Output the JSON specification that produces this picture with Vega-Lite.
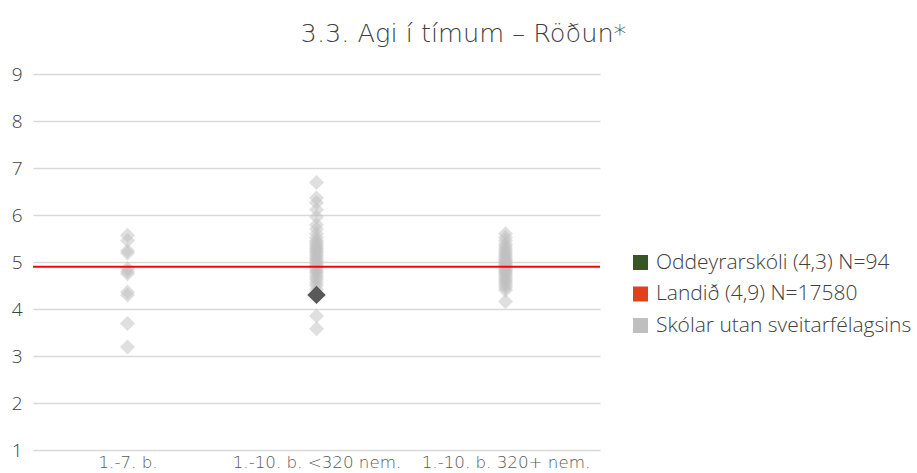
{
  "$schema": "https://vega.github.io/schema/vega-lite/v6.json",
  "width": 567,
  "height": 376,
  "autosize": {"type": "none"},
  "padding": {"left": 33, "top": 74, "right": 317, "bottom": 23},
  "background": "white",
  "config": {"font": "Open Sans", "view": {"stroke": null}},
  "title": {"text": "3.3. Agi í tímum – Röðun*", "font": "DejaVu Sans", "fontSize": 25.6, "fontWeight": 200, "color": "#404040", "anchor": "middle", "frame": "group", "dx": 147, "offset": 17},
  "datasets": {
    "schools": [
      {"cat": "1.-7. b.", "v": 5.57, "s": "Skólar utan sveitarfélagsins"},
      {"cat": "1.-7. b.", "v": 5.46, "s": "Skólar utan sveitarfélagsins"},
      {"cat": "1.-7. b.", "v": 5.24, "s": "Skólar utan sveitarfélagsins"},
      {"cat": "1.-7. b.", "v": 5.19, "s": "Skólar utan sveitarfélagsins"},
      {"cat": "1.-7. b.", "v": 4.86, "s": "Skólar utan sveitarfélagsins"},
      {"cat": "1.-7. b.", "v": 4.8, "s": "Skólar utan sveitarfélagsins"},
      {"cat": "1.-7. b.", "v": 4.75, "s": "Skólar utan sveitarfélagsins"},
      {"cat": "1.-7. b.", "v": 4.36, "s": "Skólar utan sveitarfélagsins"},
      {"cat": "1.-7. b.", "v": 4.3, "s": "Skólar utan sveitarfélagsins"},
      {"cat": "1.-7. b.", "v": 3.69, "s": "Skólar utan sveitarfélagsins"},
      {"cat": "1.-7. b.", "v": 3.19, "s": "Skólar utan sveitarfélagsins"},
      {"cat": "1.-10. b. <320 nem.", "v": 6.69, "s": "Skólar utan sveitarfélagsins"},
      {"cat": "1.-10. b. <320 nem.", "v": 6.36, "s": "Skólar utan sveitarfélagsins"},
      {"cat": "1.-10. b. <320 nem.", "v": 6.26, "s": "Skólar utan sveitarfélagsins"},
      {"cat": "1.-10. b. <320 nem.", "v": 6.11, "s": "Skólar utan sveitarfélagsins"},
      {"cat": "1.-10. b. <320 nem.", "v": 5.96, "s": "Skólar utan sveitarfélagsins"},
      {"cat": "1.-10. b. <320 nem.", "v": 5.79, "s": "Skólar utan sveitarfélagsins"},
      {"cat": "1.-10. b. <320 nem.", "v": 5.7, "s": "Skólar utan sveitarfélagsins"},
      {"cat": "1.-10. b. <320 nem.", "v": 5.6, "s": "Skólar utan sveitarfélagsins"},
      {"cat": "1.-10. b. <320 nem.", "v": 5.52, "s": "Skólar utan sveitarfélagsins"},
      {"cat": "1.-10. b. <320 nem.", "v": 5.46, "s": "Skólar utan sveitarfélagsins"},
      {"cat": "1.-10. b. <320 nem.", "v": 5.42, "s": "Skólar utan sveitarfélagsins"},
      {"cat": "1.-10. b. <320 nem.", "v": 5.38, "s": "Skólar utan sveitarfélagsins"},
      {"cat": "1.-10. b. <320 nem.", "v": 5.34, "s": "Skólar utan sveitarfélagsins"},
      {"cat": "1.-10. b. <320 nem.", "v": 5.3, "s": "Skólar utan sveitarfélagsins"},
      {"cat": "1.-10. b. <320 nem.", "v": 5.27, "s": "Skólar utan sveitarfélagsins"},
      {"cat": "1.-10. b. <320 nem.", "v": 5.23, "s": "Skólar utan sveitarfélagsins"},
      {"cat": "1.-10. b. <320 nem.", "v": 5.2, "s": "Skólar utan sveitarfélagsins"},
      {"cat": "1.-10. b. <320 nem.", "v": 5.16, "s": "Skólar utan sveitarfélagsins"},
      {"cat": "1.-10. b. <320 nem.", "v": 5.12, "s": "Skólar utan sveitarfélagsins"},
      {"cat": "1.-10. b. <320 nem.", "v": 5.08, "s": "Skólar utan sveitarfélagsins"},
      {"cat": "1.-10. b. <320 nem.", "v": 5.05, "s": "Skólar utan sveitarfélagsins"},
      {"cat": "1.-10. b. <320 nem.", "v": 5.01, "s": "Skólar utan sveitarfélagsins"},
      {"cat": "1.-10. b. <320 nem.", "v": 4.97, "s": "Skólar utan sveitarfélagsins"},
      {"cat": "1.-10. b. <320 nem.", "v": 4.93, "s": "Skólar utan sveitarfélagsins"},
      {"cat": "1.-10. b. <320 nem.", "v": 4.89, "s": "Skólar utan sveitarfélagsins"},
      {"cat": "1.-10. b. <320 nem.", "v": 4.85, "s": "Skólar utan sveitarfélagsins"},
      {"cat": "1.-10. b. <320 nem.", "v": 4.81, "s": "Skólar utan sveitarfélagsins"},
      {"cat": "1.-10. b. <320 nem.", "v": 4.77, "s": "Skólar utan sveitarfélagsins"},
      {"cat": "1.-10. b. <320 nem.", "v": 4.72, "s": "Skólar utan sveitarfélagsins"},
      {"cat": "1.-10. b. <320 nem.", "v": 4.67, "s": "Skólar utan sveitarfélagsins"},
      {"cat": "1.-10. b. <320 nem.", "v": 4.62, "s": "Skólar utan sveitarfélagsins"},
      {"cat": "1.-10. b. <320 nem.", "v": 4.56, "s": "Skólar utan sveitarfélagsins"},
      {"cat": "1.-10. b. <320 nem.", "v": 4.5, "s": "Skólar utan sveitarfélagsins"},
      {"cat": "1.-10. b. <320 nem.", "v": 4.42, "s": "Skólar utan sveitarfélagsins"},
      {"cat": "1.-10. b. <320 nem.", "v": 3.85, "s": "Skólar utan sveitarfélagsins"},
      {"cat": "1.-10. b. <320 nem.", "v": 3.58, "s": "Skólar utan sveitarfélagsins"},
      {"cat": "1.-10. b. 320+ nem.", "v": 5.6, "s": "Skólar utan sveitarfélagsins"},
      {"cat": "1.-10. b. 320+ nem.", "v": 5.52, "s": "Skólar utan sveitarfélagsins"},
      {"cat": "1.-10. b. 320+ nem.", "v": 5.45, "s": "Skólar utan sveitarfélagsins"},
      {"cat": "1.-10. b. 320+ nem.", "v": 5.38, "s": "Skólar utan sveitarfélagsins"},
      {"cat": "1.-10. b. 320+ nem.", "v": 5.33, "s": "Skólar utan sveitarfélagsins"},
      {"cat": "1.-10. b. 320+ nem.", "v": 5.28, "s": "Skólar utan sveitarfélagsins"},
      {"cat": "1.-10. b. 320+ nem.", "v": 5.24, "s": "Skólar utan sveitarfélagsins"},
      {"cat": "1.-10. b. 320+ nem.", "v": 5.2, "s": "Skólar utan sveitarfélagsins"},
      {"cat": "1.-10. b. 320+ nem.", "v": 5.16, "s": "Skólar utan sveitarfélagsins"},
      {"cat": "1.-10. b. 320+ nem.", "v": 5.12, "s": "Skólar utan sveitarfélagsins"},
      {"cat": "1.-10. b. 320+ nem.", "v": 5.08, "s": "Skólar utan sveitarfélagsins"},
      {"cat": "1.-10. b. 320+ nem.", "v": 5.05, "s": "Skólar utan sveitarfélagsins"},
      {"cat": "1.-10. b. 320+ nem.", "v": 5.02, "s": "Skólar utan sveitarfélagsins"},
      {"cat": "1.-10. b. 320+ nem.", "v": 4.99, "s": "Skólar utan sveitarfélagsins"},
      {"cat": "1.-10. b. 320+ nem.", "v": 4.96, "s": "Skólar utan sveitarfélagsins"},
      {"cat": "1.-10. b. 320+ nem.", "v": 4.93, "s": "Skólar utan sveitarfélagsins"},
      {"cat": "1.-10. b. 320+ nem.", "v": 4.9, "s": "Skólar utan sveitarfélagsins"},
      {"cat": "1.-10. b. 320+ nem.", "v": 4.87, "s": "Skólar utan sveitarfélagsins"},
      {"cat": "1.-10. b. 320+ nem.", "v": 4.84, "s": "Skólar utan sveitarfélagsins"},
      {"cat": "1.-10. b. 320+ nem.", "v": 4.81, "s": "Skólar utan sveitarfélagsins"},
      {"cat": "1.-10. b. 320+ nem.", "v": 4.78, "s": "Skólar utan sveitarfélagsins"},
      {"cat": "1.-10. b. 320+ nem.", "v": 4.75, "s": "Skólar utan sveitarfélagsins"},
      {"cat": "1.-10. b. 320+ nem.", "v": 4.71, "s": "Skólar utan sveitarfélagsins"},
      {"cat": "1.-10. b. 320+ nem.", "v": 4.67, "s": "Skólar utan sveitarfélagsins"},
      {"cat": "1.-10. b. 320+ nem.", "v": 4.63, "s": "Skólar utan sveitarfélagsins"},
      {"cat": "1.-10. b. 320+ nem.", "v": 4.59, "s": "Skólar utan sveitarfélagsins"},
      {"cat": "1.-10. b. 320+ nem.", "v": 4.55, "s": "Skólar utan sveitarfélagsins"},
      {"cat": "1.-10. b. 320+ nem.", "v": 4.5, "s": "Skólar utan sveitarfélagsins"},
      {"cat": "1.-10. b. 320+ nem.", "v": 4.45, "s": "Skólar utan sveitarfélagsins"},
      {"cat": "1.-10. b. 320+ nem.", "v": 4.4, "s": "Skólar utan sveitarfélagsins"},
      {"cat": "1.-10. b. 320+ nem.", "v": 4.16, "s": "Skólar utan sveitarfélagsins"}
    ],
    "own": [
      {"cat": "1.-10. b. <320 nem.", "v": 4.3, "s": "Oddeyrarskóli (4,3) N=94"}
    ],
    "national": [
      {"v": 4.9, "s": "Landið (4,9) N=17580"}
    ]
  },
  "encoding": {
    "y": {
      "field": "v", "type": "quantitative",
      "scale": {"domain": [1, 9], "nice": false, "zero": false},
      "axis": {"title": null, "values": [1,2,3,4,5,6,7,8,9], "domain": false, "ticks": false, "labelPadding": 11, "labelFontSize": 19, "labelFontWeight": 300, "labelColor": "#404040", "gridColor": "#d9d9d9", "gridWidth": 1.3}
    }
  },
  "layer": [
    {
      "data": {"name": "schools"},
      "mark": {"type": "point", "shape": "diamond", "filled": true, "size": 225, "opacity": 0.5},
      "encoding": {
        "x": {
          "field": "cat", "type": "nominal", "sort": ["1.-7. b.", "1.-10. b. <320 nem.", "1.-10. b. 320+ nem."],
          "scale": {"type": "point", "padding": 0.5},
          "axis": {"title": null, "labelAngle": 0, "domain": false, "ticks": false, "grid": false, "labelPadding": 4, "labelFont": "DejaVu Sans", "labelFontSize": 16.7, "labelFontWeight": 200, "labelColor": "#595959"}
        },
        "color": {
          "field": "s", "type": "nominal",
          "scale": {"domain": ["Oddeyrarskóli (4,3) N=94", "Landið (4,9) N=17580", "Skólar utan sveitarfélagsins"], "range": ["#375623", "#e2401c", "#bfbfbf"]},
          "legend": {"title": null, "orient": "none", "legendX": 597, "legendY": 178, "symbolType": "square", "symbolSize": 225, "symbolOpacity": 1, "labelFontSize": 21, "labelFontWeight": 300, "labelColor": "#404040", "rowPadding": 9.5, "labelOffset": 5, "labelLimit": 400}
        }
      }
    },
    {
      "data": {"name": "national"},
      "mark": {"type": "rule", "color": "#ff0000", "strokeWidth": 2},
      "encoding": {}
    },
    {
      "data": {"name": "own"},
      "mark": {"type": "point", "shape": "diamond", "filled": true, "size": 340, "opacity": 1, "color": "#595959"},
      "encoding": {
        "x": {"field": "cat", "type": "nominal", "sort": ["1.-7. b.", "1.-10. b. <320 nem.", "1.-10. b. 320+ nem."]}
      }
    }
  ]
}
